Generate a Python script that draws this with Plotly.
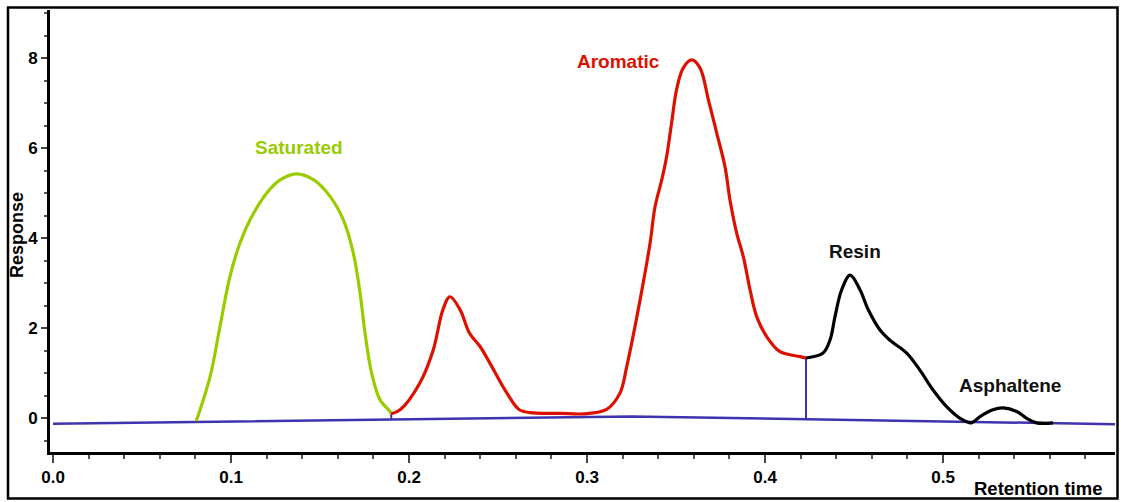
import plotly.graph_objects as go

# ---- data ----
sat_x = [0.0805, 0.0882, 0.0938, 0.0994, 0.105, 0.1107, 0.12, 0.1278, 0.1369, 0.1463,
         0.1556, 0.1631, 0.1687, 0.1725, 0.1753, 0.179, 0.1837, 0.1893, 0.190]
sat_y = [-0.06, 0.92, 2.04, 3.15, 3.89, 4.41, 5.0, 5.3, 5.43, 5.3,
         4.93, 4.41, 3.67, 2.78, 1.89, 1.0, 0.41, 0.15, 0.10]

aro_x = [0.190, 0.195, 0.206, 0.2136, 0.219, 0.223, 0.2287, 0.234, 0.240, 0.2455,
         0.255, 0.262, 0.270, 0.285, 0.298, 0.311, 0.3185, 0.3223, 0.3298, 0.3354,
         0.3382, 0.342, 0.3447, 0.3475, 0.3503, 0.354, 0.3588, 0.3635, 0.3682, 0.3729,
         0.3775, 0.3803, 0.3841, 0.3878, 0.3916, 0.3953, 0.401, 0.4084, 0.4197, 0.423]
aro_y = [0.10, 0.19, 0.78, 1.52, 2.41, 2.70, 2.41, 1.89, 1.59, 1.22,
         0.56, 0.19, 0.12, 0.11, 0.10, 0.20, 0.56, 1.15, 2.63, 3.89,
         4.70, 5.30, 5.81, 6.56, 7.30, 7.78, 7.96, 7.78, 7.07, 6.33,
         5.59, 4.85, 4.11, 3.59, 2.85, 2.26, 1.81, 1.48, 1.37, 1.34]

res_x = [0.423, 0.4326, 0.4365, 0.4393, 0.443, 0.4478, 0.4534, 0.458, 0.4646, 0.470,
         0.4796, 0.487, 0.4944, 0.502, 0.5096, 0.516, 0.5208, 0.528, 0.5337, 0.5414,
         0.547, 0.5526, 0.5618]
res_y = [1.34, 1.45, 1.74, 2.26, 2.85, 3.18, 2.85, 2.41, 1.96, 1.74,
         1.45, 1.07, 0.63, 0.26, 0.0, -0.10, 0.04, 0.19, 0.23, 0.15,
         0.0, -0.10, -0.10]

base_x = [0.0, 0.325, 0.5966]
base_y = [-0.12, 0.04, -0.13]

cut_x = [0.190, 0.423]
cut_lo = [-0.026, -0.021]
cut_hi = [0.10, 1.34]

labels = ["Saturated", "Aromatic", "Resin", "Asphaltene"]
label_x = [0.138, 0.3174, 0.4506, 0.5376]
label_y = [6.02, 7.93, 3.70, 0.74]
label_colors = ["#99cc00", "#dd1100", "#111111", "#111111"]

GREEN = "#99cc00"
RED = "#dd1100"
BLUE = "#3f33b0"
FONT = "Arial, Liberation Sans, sans-serif"

fig = go.Figure()

fig.add_trace(go.Scatter(x=base_x, y=base_y, mode="lines",
                         line=dict(color=BLUE, width=2.5), hoverinfo="skip"))
for cx, lo, hi in zip(cut_x, cut_lo, cut_hi):
    fig.add_trace(go.Scatter(x=[cx, cx], y=[lo, hi], mode="lines",
                             line=dict(color=BLUE, width=2), hoverinfo="skip"))

fig.add_trace(go.Scatter(x=sat_x, y=sat_y, mode="lines",
                         line=dict(color=GREEN, width=3.2, shape="spline", smoothing=1.0)))
fig.add_trace(go.Scatter(x=aro_x, y=aro_y, mode="lines",
                         line=dict(color=RED, width=3.2, shape="spline", smoothing=1.0)))
fig.add_trace(go.Scatter(x=res_x, y=res_y, mode="lines",
                         line=dict(color="#000000", width=3.2, shape="spline", smoothing=1.0)))

for t, x, y, c in zip(labels, label_x, label_y, label_colors):
    fig.add_annotation(x=x, y=y, text=t, showarrow=False, xref="x", yref="y",
                       font=dict(family=FONT, size=19, color=c, weight="bold"))

# axis titles
fig.add_annotation(x=(1038 - 50) / 1065, y=(452 - 489) / 442, xref="paper", yref="paper",
                   xanchor="center", yanchor="middle", borderpad=0,
                   text="Retention time", showarrow=False,
                   font=dict(family=FONT, size=18.5, color="#000", weight="bold"))
fig.add_annotation(x=(17 - 50) / 1065, y=(452 - 235) / 442, xref="paper", yref="paper",
                   xanchor="center", yanchor="middle",
                   text="Response", showarrow=False, textangle=-90,
                   font=dict(family=FONT, size=18, color="#000", weight="bold"))

# outer frame
fig.add_shape(type="rect", xref="paper", yref="paper",
              x0=(8 - 50) / 1065, x1=(1117.5 - 50) / 1065,
              y0=(452 - 498.5) / 442, y1=(452 - 7.5) / 442,
              line=dict(color="#000", width=2.5), fillcolor="rgba(0,0,0,0)", layer="above")

fig.update_layout(
    width=1121, height=502,
    margin=dict(l=50, r=6, t=10, b=50),
    paper_bgcolor="white", plot_bgcolor="white",
    showlegend=False,
    font=dict(family=FONT, color="#000"),
    xaxis=dict(range=[-0.0017, 0.5966], tickmode="linear", tick0=0, dtick=0.1,
               tickformat=".1f", showgrid=False, zeroline=False,
               showline=True, linecolor="#000", linewidth=3,
               ticks="outside", ticklen=8, tickwidth=1.5, tickcolor="#444",
               minor=dict(dtick=0.02, tick0=0, ticks="outside", ticklen=4, tickwidth=1.5,
                          tickcolor="#555", showgrid=False),
               tickfont=dict(family=FONT, size=17, color="#000", weight="bold")),
    yaxis=dict(range=[-0.748, 9.07], tickmode="linear", tick0=0, dtick=2,
               showgrid=False, zeroline=False,
               showline=True, linecolor="#000", linewidth=3,
               ticks="outside", ticklen=6, tickwidth=1.5, tickcolor="#444",
               minor=dict(dtick=0.5, tick0=0, ticks="outside", ticklen=3, tickwidth=1.5,
                          tickcolor="#555", showgrid=False),
               tickfont=dict(family=FONT, size=17, color="#000", weight="bold")),
)

fig.write_html("out.html", config={"displayModeBar": False},
               post_script="document.body.style.margin='0';document.body.style.overflow='hidden';")
